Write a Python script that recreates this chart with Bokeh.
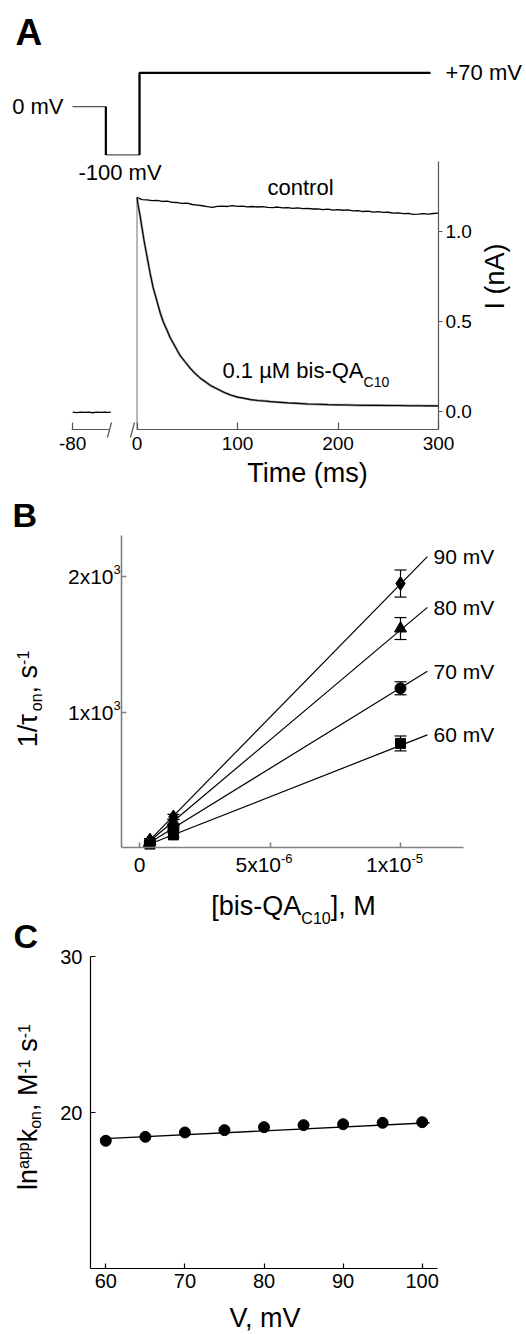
import math
from bokeh.plotting import figure
from bokeh.layouts import column
from bokeh.models import (Range1d, FixedTicker, Label, Whisker, ColumnDataSource,
                          TeeHead, NumeralTickFormatter)
from bokeh.embed import file_html
from bokeh.resources import INLINE

FONT = "Liberation Sans"
W = 524

# ---------------- data : panel A ----------------
proto_t = [-64.2, -31.0, -31.0, 2.5, 2.5, 292.0]      # display time, ms
proto_v = [0, 0, -100, -100, 70, 70]                  # command potential, mV

ctrl_t = [0, 5, 10, 15, 20, 25, 30, 35, 40, 45, 50, 55, 60, 65, 70, 75, 80, 85, 90, 95,
          100, 105, 110, 115, 120, 125, 130, 135, 140, 145, 150, 155, 160, 165, 170, 175,
          180, 185, 190, 195, 200, 205, 210, 215, 220, 225, 230, 235, 240, 245, 250, 255,
          260, 265, 270, 275, 280, 285, 290, 295, 300]
ctrl_i = [1.190, 1.177, 1.176, 1.172, 1.173, 1.167, 1.169, 1.162, 1.161, 1.156, 1.157, 1.150,
          1.147, 1.143, 1.138, 1.134, 1.140, 1.141, 1.139, 1.144, 1.140, 1.141, 1.137, 1.139,
          1.136, 1.138, 1.134, 1.133, 1.136, 1.131, 1.133, 1.129, 1.131, 1.127, 1.129, 1.125,
          1.126, 1.122, 1.124, 1.119, 1.121, 1.118, 1.120, 1.115, 1.116, 1.111, 1.113, 1.108,
          1.110, 1.106, 1.107, 1.102, 1.104, 1.099, 1.101, 1.095, 1.096, 1.099, 1.096, 1.100,
          1.102]

bis_t = [0, 1, 2, 3, 5, 7, 10, 13, 16, 20, 23, 26, 30, 33, 38, 43, 48, 53, 58, 63, 68, 73,
         80, 87, 93, 100, 107, 113, 120, 127, 133, 140, 150, 160, 170, 180, 190, 200, 210,
         220, 230, 240, 250, 260, 270, 280, 290, 300]
bis_i = [1.19, 1.15, 1.12, 1.09, 1.02, 0.95, 0.86, 0.77, 0.69, 0.61, 0.55, 0.50, 0.45, 0.41,
         0.36, 0.31, 0.275, 0.24, 0.21, 0.185, 0.165, 0.145, 0.125, 0.105, 0.092, 0.080,
         0.073, 0.066, 0.061, 0.058, 0.055, 0.052, 0.048, 0.045, 0.042, 0.040, 0.038, 0.037,
         0.036, 0.035, 0.034, 0.034, 0.033, 0.033, 0.032, 0.032, 0.031, 0.031]

base_t = [-80, -76, -72, -68, -64, -60, -56, -52, -48, -44, -42]
base_i = [-0.004, -0.006, -0.003, -0.005, -0.004, -0.007, -0.004, -0.005, -0.003, -0.005, -0.004]
BREAK_SHIFT = 16.0

a_xticks = [-64, 0, 100, 200, 300]
a_xtick_labels = {-64: "-80"}
a_yticks = [0.0, 0.5, 1.0]

# ---------------- data : panel B ----------------
conc = [0.4e-6, 1.3e-6, 1.0e-5]
series = ["90 mV", "80 mV", "70 mV", "60 mV"]
markers = ["diamond", "triangle", "circle", "square"]
msizes = [14, 12, 11, 10]
rate_90 = [55, 225, 1948]
rate_80 = [45, 190, 1616]
rate_70 = [35, 142, 1175]
rate_60 = [25, 93, 768]
err_90 = [10, 20, 100]
err_80 = [8, 18, 81]
err_70 = [7, 15, 48]
err_60 = [6, 15, 55]
fit_conc = [0.15e-6, 1.103e-5]
fit_90 = [7, 2147]
fit_80 = [7, 1772]
fit_70 = [7, 1301]
fit_60 = [7, 831]
b_xticks = [0, 5e-6, 1e-5]
b_xtick_mant = ["0", "5x10", "1x10"]
b_xtick_exp = ["", "-6", "-5"]
b_yticks = [1000, 2000]
b_ytick_mant = ["1x10", "2x10"]
b_ytick_exp = ["3", "3"]

# ---------------- data : panel C ----------------
volt = [60, 65, 70, 75, 80, 85, 90, 95, 100]
lnk = [18.19, 18.44, 18.72, 18.87, 19.06, 19.19, 19.25, 19.34, 19.38]
fit_v = [59.25, 100.93]
fit_lnk = [18.31, 19.34]
c_xticks = [60, 70, 80, 90, 100]
c_yticks = [20, 30]

# ---------------- helpers ----------------
ADV = {c: 0.556 for c in "0123456789"}
ADV.update({".": 0.278, " ": 0.278, ",": 0.278, "/": 0.278, "-": 0.333, "+": 0.584,
            "[": 0.278, "]": 0.278, "(": 0.333, ")": 0.333,
            "a": 0.556, "b": 0.556, "c": 0.5, "e": 0.556, "i": 0.222, "k": 0.5, "l": 0.222,
            "m": 0.833, "n": 0.556, "o": 0.556, "p": 0.556, "r": 0.333, "s": 0.5, "t": 0.278,
            "x": 0.5, "A": 0.667, "B": 0.667, "C": 0.722, "I": 0.278, "M": 0.833, "Q": 0.778,
            "T": 0.611, "V": 0.667, "\u03c4": 0.5, "\u00b5": 0.576})
MID = 0.36   # distance from alphabetic baseline to the 'middle' anchor, in em


def tw(s, size):
    return sum(ADV.get(c, 0.556) for c in s) * size


class Geo:
    """A panel whose frame fills its whole canvas (page rows ft..fb, columns 0..W).
    xa / ya : (page pixel, data value, pixels per data unit) anchors read off the reference."""
    def __init__(self, ft, fb, xa, ya):
        self.ft, self.fb = ft, fb
        self.xa, self.ya = xa, ya
        self.x0, self.x1 = self.X(0), self.X(W)
        self.y0, self.y1 = self.Y(fb), self.Y(ft)

    def X(self, xp):
        p, v, k = self.xa
        return v + (xp - p) / k

    def Y(self, yp):
        p, v, k = self.ya
        return v + (p - yp) / k

    def px(self, x):
        p, v, k = self.xa
        return p + (x - v) * k

    def py(self, y):
        p, v, k = self.ya
        return p - (y - v) * k


def label(p, g, xp, yp, text, size, align="left", base=True, bold=False, angle=0.0):
    """(xp, yp) page position; if base, yp (or xp when rotated) is the alphabetic baseline."""
    if base:
        if angle == 0:
            yp = yp - MID * size
        else:
            xp = xp - MID * size
    p.add_layout(Label(x=g.X(xp), y=g.Y(yp), text=text, text_font=FONT,
                       text_font_size=f"{size}px", text_align=align, text_baseline="middle",
                       text_font_style="bold" if bold else "normal", angle=angle,
                       text_color="black"))


def rich(p, g, xp, yp, pieces, align="left", angle=0.0):
    total = sum(tw(t, s) for t, s, _ in pieces)
    cur = {"left": 0.0, "center": -total / 2, "right": -total}[align]
    for t, s, sh in pieces:
        lead = len(t) - len(t.lstrip(" "))
        cur += tw(" " * lead, s)          # leading blanks are advanced, not drawn
        body = t.lstrip(" ")
        if angle == 0:
            label(p, g, xp + cur, yp - sh, body, s)
        else:
            label(p, g, xp - sh, yp - cur, body, s, angle=angle)
        cur += tw(body, s)


def make_fig(g, y_loc="left"):
    p = figure(frame_width=W, frame_height=int(g.fb - g.ft),
               x_range=Range1d(g.x0, g.x1), y_range=Range1d(g.y0, g.y1),
               output_backend="svg", toolbar_location=None, y_axis_location=y_loc,
               min_border_left=0, min_border_right=0, min_border_top=0, min_border_bottom=0)
    p.grid.visible = False
    p.outline_line_color = None
    p.background_fill_color = "white"
    p.border_fill_color = "white"
    return p


def style_axis(ax, color, width, tin, tout, standoff, size="19px"):
    ax.axis_line_color = color
    ax.axis_line_width = width
    ax.major_tick_line_color = color
    ax.major_tick_line_width = width
    ax.minor_tick_line_color = None
    ax.major_tick_in = tin
    ax.major_tick_out = tout
    ax.major_label_standoff = standoff
    ax.major_label_text_font = FONT
    ax.major_label_text_font_size = size
    ax.major_label_text_color = "black"


# ================= PANEL A =================
gA = Geo(0, 490, (136.5, 0.0, 1.005), (411.0, 0.0, 180.0))
pA = make_fig(gA, y_loc="right")
V0_PAGE, V_PX = 106.2, 0.482
pA.extra_y_ranges = {"v": Range1d((V0_PAGE - gA.fb) / V_PX, (V0_PAGE - gA.ft) / V_PX)}


def vpage(v):
    return V0_PAGE - V_PX * v


pA.line(proto_t, proto_v, y_range_name="v", line_color="#555555", line_width=1.3)
pA.line(proto_t[1:3], proto_v[1:3], y_range_name="v", line_color="black", line_width=2.2)
pA.line(proto_t[3:], proto_v[3:], y_range_name="v", line_color="black", line_width=2.2)

AX_Y = gA.Y(429)            # nA level of the time axis
pA.line([0, 0], [AX_Y, ctrl_i[0]], line_color="#8a8a8a", line_width=1.2)
pA.line(ctrl_t, ctrl_i, line_color="black", line_width=1.3)
pA.line(bis_t, bis_i, line_color="#9a9a9a", line_width=2.4)
pA.line(bis_t, bis_i, line_color="black", line_width=1.1)
pA.line([t + BREAK_SHIFT for t in base_t], base_i, line_color="black", line_width=1.3)

axc = "#555555"
pA.line([base_t[0] + BREAK_SHIFT - 1, base_t[-3] + BREAK_SHIFT + 4], [AX_Y, AX_Y],
        line_color=axc, line_width=1.2)
pA.line([ctrl_t[0], ctrl_t[-1]], [AX_Y, AX_Y], line_color=axc, line_width=1.2)
brk_x = [-29.4, -6.5]
pA.segment(x0=brk_x, y0=[gA.Y(437)] * 2, x1=[x + 4 for x in brk_x], y1=[gA.Y(422)] * 2,
           line_color=axc, line_width=1.2)

xa = pA.xaxis[0]
style_axis(xa, axc, 1.2, 7, 0, 7)
xa.axis_line_color = None
xa.fixed_location = AX_Y
xa.ticker = FixedTicker(ticks=a_xticks)
xa.major_label_overrides = a_xtick_labels

ya = pA.yaxis[0]
style_axis(ya, axc, 1.2, 0, 4, 3)
ya.fixed_location = gA.X(438)
ya.ticker = FixedTicker(ticks=a_yticks)
ya.formatter = NumeralTickFormatter(format="0.0")
ya.bounds = (AX_Y, gA.Y(160.8))

label(pA, gA, 15, 45, "A", 37, bold=True)
label(pA, gA, 63, vpage(0), "0 mV", 22, align="right", base=False)
label(pA, gA, 119.5, 172, "-100 mV", 22, align="center", base=False)
label(pA, gA, 445, vpage(70), "+70 mV", 22, base=False)
label(pA, gA, 300, 187, "control", 22, align="center", base=False)
rich(pA, gA, 222, 378, [("0.1 \u00b5M bis-QA", 22, 0), ("C10", 14, -9)])
label(pA, gA, 307, 482, "Time (ms)", 27, align="center")
label(pA, gA, 504, 276, "I (nA)", 27, align="center", angle=math.pi / 2)

# ================= PANEL B =================
gB = Geo(490, 890, (139.0, 0.0, 26.1e6), (847.0, 0.0, 0.1355))
pB = make_fig(gB)
rates = [rate_90, rate_80, rate_70, rate_60]
errs = [err_90, err_80, err_70, err_60]
fits = [fit_90, fit_80, fit_70, fit_60]
for name, mk, ms, r, e, f in zip(series, markers, msizes, rates, errs, fits):
    pB.line(fit_conc, f, line_color="black", line_width=1.2)
    src = ColumnDataSource(dict(x=conc, y=r, upper=[a + b for a, b in zip(r, e)],
                                lower=[a - b for a, b in zip(r, e)]))
    pB.add_layout(Whisker(source=src, base="x", upper="upper", lower="lower",
                          dimension="height", line_color="black", line_width=1.2,
                          upper_head=TeeHead(size=12, line_color="black", line_width=1.2),
                          lower_head=TeeHead(size=12, line_color="black", line_width=1.2)))
    pB.scatter("x", "y", source=src, marker=mk, size=ms, fill_color="black", line_color="black")
    pB.add_layout(Label(x=gB.X(433), y=f[-1], text=name, text_font=FONT,
                        text_font_size="21px", text_baseline="middle", text_color="black"))

bcol = "#808080"
xb = pB.xaxis[0]
style_axis(xb, bcol, 1.6, 5, 0, 5)
xb.major_label_text_color = None
xb.fixed_location = 0.0
xb.bounds = (gB.X(121), gB.X(463))
xb.ticker = FixedTicker(ticks=b_xticks)
yb = pB.yaxis[0]
style_axis(yb, bcol, 1.6, 5, 0, 5)
yb.major_label_text_color = None
yb.fixed_location = gB.X(121)
yb.bounds = (0.0, gB.Y(535))
yb.ticker = FixedTicker(ticks=b_yticks)

TK, SUP = 21, 13
for v, m, e in zip(b_xticks, b_xtick_mant, b_xtick_exp):
    if e:
        rich(pB, gB, gB.px(v) - 6, 872, [(m, TK, 0), (e, SUP, 9.5)], align="center")
    else:
        label(pB, gB, gB.px(v), 872, m, TK, align="center")
for v, m, e in zip(b_yticks, b_ytick_mant, b_ytick_exp):
    yp = gB.py(v) + MID * TK
    rich(pB, gB, 113 - tw(m, TK), yp, [(m, TK, 0), (e, SUP, 9.5)])

label(pB, gB, 12, 527, "B", 34, bold=True)
rich(pB, gB, 37, 698.5, [("1/\u03c4", 27, 0), ("on", 16, -5), (", s", 27, 0), ("-1", 16, 9)],
     align="center", angle=math.pi / 2)

# ================= PANEL C =================
gC = Geo(890, 1333, (105.3, 60.0, 7.91), (1112.0, 20.0, 15.6))
pC = make_fig(gC)
# x-axis title of panel B sits at the top of this canvas
rich(pC, gC, 293, 915, [("[bis-QA", 27, 0), ("C10", 16, -9), ("], M", 27, 0)],
     align="center")

pC.line(fit_v, fit_lnk, line_color="black", line_width=1.4)
pC.scatter(volt, lnk, marker="circle", size=11, fill_color="black", line_color="black")

xc = pC.xaxis[0]
style_axis(xc, "black", 1.2, 5, 0, 5, size="20px")
xc.fixed_location = 10.0
xc.bounds = (gC.X(90), gC.X(437))
xc.ticker = FixedTicker(ticks=c_xticks)
yc = pC.yaxis[0]
style_axis(yc, "black", 1.2, 5, 0, 8, size="20px")
yc.fixed_location = gC.X(90)
yc.bounds = (10.0, 30.0)
yc.ticker = FixedTicker(ticks=c_yticks)

label(pC, gC, 13, 948, "C", 34, bold=True)
label(pC, gC, 264.5, 1327, "V, mV", 27, align="center")
rich(pC, gC, 37, 1106.5,
     [("ln", 27, 0), ("app", 16, 8), ("k", 27, 0), ("on", 16, -4), (", M", 27, 0),
      ("-1", 16, 8), (" s", 27, 0), ("-1", 16, 8)], align="center", angle=math.pi / 2)

layout = column(pA, pB, pC, spacing=0)
open("out.html", "w").write(file_html(layout, INLINE))
